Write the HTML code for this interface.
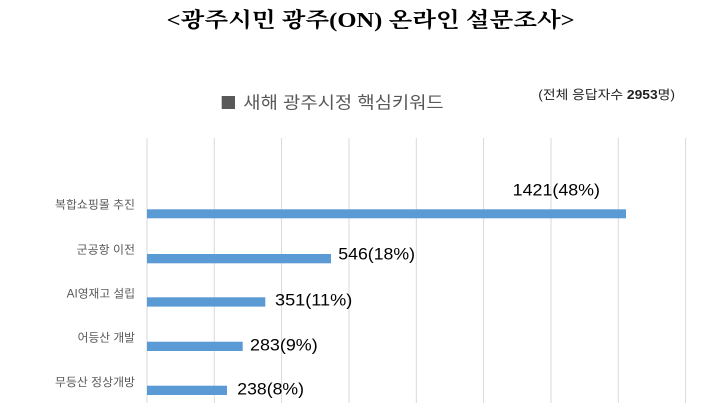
<!DOCTYPE html>
<html><head><meta charset="utf-8"><style>
html,body{margin:0;padding:0;background:#fff;}
svg{display:block;}
</style></head><body>
<svg width="710" height="413" viewBox="0 0 710 413" xmlns="http://www.w3.org/2000/svg">
<rect width="710" height="413" fill="#fff"/>
<text x="166.7" y="27" font-family="'Liberation Serif','Noto Serif CJK SC',serif" font-weight="bold" font-size="21" fill="#000" textLength="408" lengthAdjust="spacingAndGlyphs">&lt;광주시민 광주(ON) 온라인 설문조사&gt;</text>
<rect x="221.7" y="96" width="13.3" height="13" fill="#595959"/>
<text x="243.3" y="108.5" font-family="'Liberation Sans','Noto Sans CJK KR',sans-serif" font-size="17" fill="#595959" textLength="200.4" lengthAdjust="spacingAndGlyphs">새해 광주시정 핵심키워드</text>
<text x="538.3" y="98.8" font-family="'Liberation Sans','Noto Sans CJK KR',sans-serif" font-size="12.5" fill="#222" textLength="136.7" lengthAdjust="spacingAndGlyphs">(전체 응답자수 <tspan font-weight="bold">2953</tspan>명)</text>
<g stroke="#d9d9d9" stroke-width="1">
<line x1="147" y1="138" x2="147" y2="403"/>
<line x1="214.3" y1="138" x2="214.3" y2="403"/>
<line x1="281.6" y1="138" x2="281.6" y2="403"/>
<line x1="349" y1="138" x2="349" y2="403"/>
<line x1="416.3" y1="138" x2="416.3" y2="403"/>
<line x1="483.6" y1="138" x2="483.6" y2="403"/>
<line x1="551" y1="138" x2="551" y2="403"/>
<line x1="618.3" y1="138" x2="618.3" y2="403"/>
<line x1="685.6" y1="138" x2="685.6" y2="403"/>
</g>
<g fill="#5b9bd5">
<rect x="147" y="209.3" width="479" height="9"/>
<rect x="147" y="254" width="184" height="9.3"/>
<rect x="147" y="297.3" width="118.3" height="9.3"/>
<rect x="147" y="341.7" width="95.7" height="9.3"/>
<rect x="147" y="385.7" width="80" height="9.3"/>
</g>
<g font-family="'Liberation Sans','Noto Sans CJK KR',sans-serif" font-size="11.5" fill="#595959" text-anchor="end">
<text x="135" y="208.7" textLength="80" lengthAdjust="spacingAndGlyphs">복합쇼핑몰 추진</text>
<text x="135" y="253.4" textLength="58.3" lengthAdjust="spacingAndGlyphs">군공항 이전</text>
<text x="135" y="297.7" textLength="68.3" lengthAdjust="spacingAndGlyphs">AI영재고 설립</text>
<text x="135" y="341.7" textLength="57.3" lengthAdjust="spacingAndGlyphs">어등산 개발</text>
<text x="135" y="386.1" textLength="80" lengthAdjust="spacingAndGlyphs">무등산 정상개방</text>
</g>
<g font-family="'Liberation Sans',sans-serif" font-size="17" fill="#000">
<text x="512.7" y="195.3" textLength="87.3" lengthAdjust="spacingAndGlyphs">1421(48%)</text>
<text x="338.3" y="259.5" textLength="76.7" lengthAdjust="spacingAndGlyphs">546(18%)</text>
<text x="275" y="305.5" textLength="77.3" lengthAdjust="spacingAndGlyphs">351(11%)</text>
<text x="250" y="350.3" textLength="67.7" lengthAdjust="spacingAndGlyphs">283(9%)</text>
<text x="237.3" y="394.3" textLength="66.7" lengthAdjust="spacingAndGlyphs">238(8%)</text>
</g>
</svg>
</body></html>
